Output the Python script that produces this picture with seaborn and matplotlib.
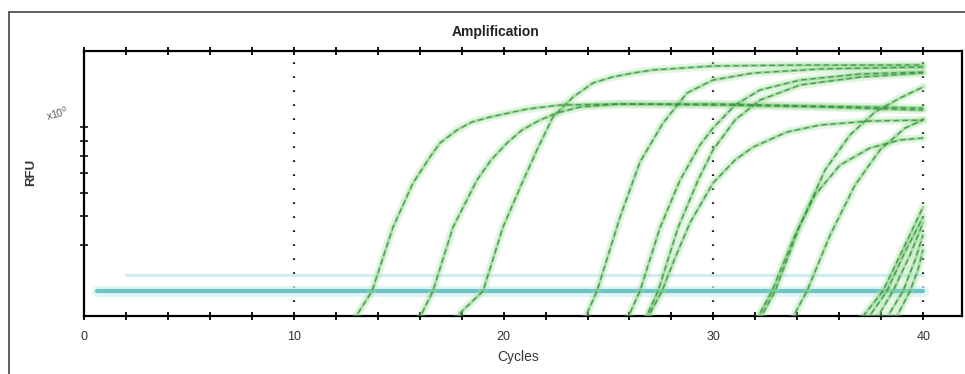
import numpy as np
import pandas as pd
import matplotlib
matplotlib.use("Agg")
import matplotlib.pyplot as plt
from matplotlib.lines import Line2D
from matplotlib.ticker import FixedLocator, NullFormatter, NullLocator, MultipleLocator
import seaborn as sns

# ---------------- data ----------------
# each amplification curve: cycles and RFU (log axis)
c1_cyc = [12.77, 13.06, 13.73, 14.73, 15.68, 16.49, 16.97, 17.78, 18.49, 19.35, 21.12, 22.69, 25.55, 30.31, 35.08, 39.99]
c1_rfu = [0.205, 0.234, 0.278, 0.458, 0.646, 0.791, 0.883, 0.977, 1.040, 1.081, 1.151, 1.187, 1.197, 1.187, 1.169, 1.142]
c2_cyc = [15.82, 16.11, 16.63, 17.59, 18.73, 19.40, 20.16, 20.88, 21.73, 22.55, 23.64, 25.55, 30.31, 35.08, 39.99]
c2_rfu = [0.205, 0.234, 0.278, 0.458, 0.661, 0.773, 0.883, 0.977, 1.056, 1.116, 1.169, 1.197, 1.197, 1.178, 1.160]
c3_cyc = [17.54, 17.92, 19.02, 19.97, 20.88, 21.59, 22.35, 23.31, 24.26, 25.17, 26.17, 27.12, 29.98, 34.13, 39.99]
c3_rfu = [0.205, 0.234, 0.278, 0.458, 0.646, 0.836, 1.081, 1.264, 1.410, 1.477, 1.524, 1.561, 1.610, 1.622, 1.622]
c4_cyc = [23.69, 23.98, 24.45, 25.55, 26.50, 27.60, 28.74, 29.98, 31.89, 35.08, 39.99]
c4_rfu = [0.205, 0.234, 0.278, 0.495, 0.761, 1.032, 1.304, 1.443, 1.524, 1.573, 1.597]
c5_cyc = [25.83, 26.02, 26.50, 27.45, 28.41, 29.36, 29.98, 31.03, 32.22, 34.13, 36.99, 39.99]
c5_rfu = [0.205, 0.234, 0.278, 0.455, 0.661, 0.869, 0.992, 1.187, 1.335, 1.443, 1.513, 1.536]
c6_cyc = [26.69, 26.88, 27.36, 28.31, 29.27, 29.98, 31.03, 32.22, 34.13, 36.99, 39.99]
c6_rfu = [0.205, 0.234, 0.278, 0.455, 0.661, 0.836, 1.056, 1.234, 1.388, 1.477, 1.524]
c7_cyc = [26.74, 26.98, 27.55, 28.17, 28.88, 29.98, 31.03, 31.89, 33.51, 35.08, 37.46, 39.99]
c7_rfu = [0.205, 0.234, 0.278, 0.360, 0.473, 0.646, 0.773, 0.855, 0.962, 1.016, 1.048, 1.056]
c8_cyc = [31.98, 32.22, 32.79, 33.89, 34.84, 36.03, 37.46, 38.89, 39.99]
c8_rfu = [0.205, 0.234, 0.278, 0.430, 0.588, 0.743, 0.849, 0.904, 0.918]
c9_cyc = [32.13, 32.36, 32.94, 34.13, 35.32, 36.51, 37.70, 38.89, 39.99]
c9_rfu = [0.205, 0.234, 0.278, 0.465, 0.715, 0.940, 1.124, 1.254, 1.366]
c10_cyc = [33.65, 33.89, 34.46, 35.56, 36.75, 37.94, 39.13, 39.99]
c10_rfu = [0.205, 0.234, 0.278, 0.430, 0.636, 0.836, 0.992, 1.056]
c11_cyc = [36.03, 36.99, 38.08, 39.13, 39.99]
c11_rfu = [0.205, 0.222, 0.278, 0.398, 0.535]
c12_cyc = [36.51, 37.37, 38.27, 39.13, 39.99]
c12_rfu = [0.205, 0.225, 0.278, 0.377, 0.495]
c13_cyc = [36.99, 37.85, 38.56, 39.37, 39.99]
c13_rfu = [0.205, 0.229, 0.278, 0.368, 0.473]
c14_cyc = [37.46, 38.32, 39.04, 39.61, 39.99]
c14_rfu = [0.205, 0.229, 0.278, 0.354, 0.430]
c15_cyc = [37.94, 38.75, 39.37, 39.75, 39.99]
c15_rfu = [0.205, 0.229, 0.278, 0.328, 0.383]

# flat negative-control / baseline traces
base_cyc = [0.6, 40.0]
base_rfu = [0.278, 0.278]
faint_cyc = [2.0, 40.0]
faint_rfu = [0.315, 0.315]

grid_cycles = [10, 30, 40]
x_major = [0, 10, 20, 30, 40]
y_ticks = [0.4, 0.5, 0.6, 0.7, 0.8, 0.9, 1.0]

title = "Amplification"
xlabel = "Cycles"
ylabel = "RFU"
scale_label = r"x10$^0$"

# ---------------- build long table ----------------
curves = [(c1_cyc, c1_rfu), (c2_cyc, c2_rfu), (c3_cyc, c3_rfu), (c4_cyc, c4_rfu),
          (c5_cyc, c5_rfu), (c6_cyc, c6_rfu), (c7_cyc, c7_rfu), (c8_cyc, c8_rfu),
          (c9_cyc, c9_rfu), (c10_cyc, c10_rfu), (c11_cyc, c11_rfu), (c12_cyc, c12_rfu),
          (c13_cyc, c13_rfu), (c14_cyc, c14_rfu), (c15_cyc, c15_rfu)]
rows = []
for i, (cx, cy) in enumerate(curves):
    for a, b in zip(cx, cy):
        rows.append({"well": i, "cycle": a, "rfu": b})
df = pd.DataFrame(rows)
bdf = pd.DataFrame({"cycle": base_cyc, "rfu": base_rfu})
fdf = pd.DataFrame({"cycle": faint_cyc, "rfu": faint_rfu})

# ---------------- figure ----------------
sns.set_style("white")
plt.rcParams["font.family"] = ["Liberation Sans", "DejaVu Sans"]

W, H = 965, 374
fig = plt.figure(figsize=(W / 100, H / 100), dpi=100)
ax = fig.add_axes([84 / W, (H - 316) / H, (962 - 84) / W, (316 - 51) / H])
ax.set_yscale("log")
ax.set_xlim(0, 41.85)
ax.set_ylim(0.229, 1.81)

# dotted grid
for g in grid_cycles:
    ax.axvline(g, color="#222222", lw=1.6, linestyle=(0, (0.8, 5.5)), zorder=1)

# baselines
sns.lineplot(data=fdf, x="cycle", y="rfu", ax=ax, color="#c4e9ed", lw=2.2, alpha=0.8, zorder=2)
sns.lineplot(data=bdf, x="cycle", y="rfu", ax=ax, color="#d6f1f3", lw=8, alpha=0.7, zorder=2)
sns.lineplot(data=bdf, x="cycle", y="rfu", ax=ax, color="#6cc3c6", lw=3, zorder=3)

# amplification curves: halo + body + dashes
sns.lineplot(data=df, x="cycle", y="rfu", units="well", estimator=None, sort=False,
             ax=ax, color="#a9e0a3", lw=6, alpha=0.3, zorder=4)
sns.lineplot(data=df, x="cycle", y="rfu", units="well", estimator=None, sort=False,
             ax=ax, color="#5cc25a", lw=2.2, alpha=0.45, zorder=5)
sns.lineplot(data=df, x="cycle", y="rfu", units="well", estimator=None, sort=False,
             ax=ax, color="#3a8f46", lw=1.0, alpha=0.85, linestyle=(0, (4, 2.5)), zorder=6)

# axes styling
for s in ax.spines.values():
    s.set_color("black")
    s.set_linewidth(1.6)
ax.xaxis.set_major_locator(FixedLocator(x_major))
ax.xaxis.set_minor_locator(MultipleLocator(2))
ax.yaxis.set_major_locator(FixedLocator(y_ticks))
ax.yaxis.set_major_formatter(NullFormatter())
ax.yaxis.set_minor_locator(NullLocator())
ax.yaxis.set_minor_formatter(NullFormatter())
ax.set_xticklabels([str(v) for v in x_major])
ax.tick_params(axis="x", which="both", direction="inout", length=6, width=1.3,
               top=True, bottom=True, labelsize=9, pad=8, colors="black")
ax.tick_params(axis="x", which="both", labelcolor="#333333")
ax.tick_params(axis="y", which="both", direction="inout", length=6, width=1.3,
               left=True, right=False)
ax.set_xlabel("")
ax.set_ylabel("")
ax.grid(False)

# texts
fig.text(496 / W, (H - 32) / H, title, ha="center", va="center", fontsize=10,
         fontweight="bold", color="#222222")
fig.text(518 / W, (H - 357) / H, xlabel, ha="center", va="center", fontsize=10,
         color="#333333")
fig.text(31 / W, (H - 172) / H, ylabel, ha="center", va="center", fontsize=9.5,
         rotation=90, fontweight="bold", color="#333333")
fig.text(57 / W, (H - 113) / H, scale_label, ha="center", va="center", fontsize=7.5,
         rotation=15, color="#555555")

# outer frame (cut off on right and bottom)
fig.add_artist(Line2D([9 / W, 9 / W], [0, (H - 12) / H], color="#444444", lw=1.2))
fig.add_artist(Line2D([9 / W, 1.0], [(H - 12) / H, (H - 12) / H], color="#444444", lw=1.2))

fig.savefig("out.png", dpi=100, facecolor="white")
